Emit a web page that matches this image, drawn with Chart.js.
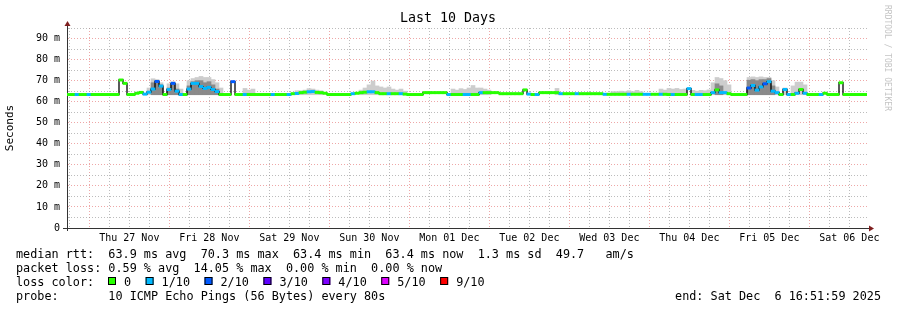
<!DOCTYPE html>
<html>
<head>
<meta charset="utf-8">
<title>Last 10 Days</title>
<script src="https://cdn.jsdelivr.net/npm/chart.js@4.4.1/dist/chart.umd.min.js"></script>
<style>
  html, body { margin: 0; padding: 0; background: #fff; }
  #wrap { width: 897px; height: 310px; position: relative; }
</style>
</head>
<body>
<div id="wrap"><canvas id="myCanvas"></canvas></div>
<script>
var MONO = '"DejaVu Sans Mono", "Liberation Mono", monospace';

// 10 days ending Sat Dec 6 16:51:59 2025, one sample every 1.2 hours (200 samples)
var stepHours = 1.2;
var spanHours = 240;
var firstMidnight = 6.7;   // hours from graph start to Thu 27 Nov 00:00

var dayLabels = ['Thu 27 Nov', 'Fri 28 Nov', 'Sat 29 Nov', 'Sun 30 Nov', 'Mon 01 Dec',
                 'Tue 02 Dec', 'Wed 03 Dec', 'Thu 04 Dec', 'Fri 05 Dec', 'Sat 06 Dec'];
var yLabels = ['0', '10 m', '20 m', '30 m', '40 m', '50 m', '60 m', '70 m', '80 m', '90 m'];

var lossColors = ['#26ff00', '#00b8ff', '#0059ff', '#5e00ff', '#7e00ff', '#dd00ff', '#ff0000'];
var lossLabels = ['0', '1/10', '2/10', '3/10', '4/10', '5/10', '9/10'];

// median rtt (ms)
var median = [
  63.4,63.4,63.4,63.4,63.4,63.4,63.4,63.4,63.4,63.4, 63.4,63.4,63.4,70.3,68.7,63.4,63.4,64.0,64.4,63.6,
  64.5,66.0,69.6,67.4,63.4,65.8,68.7,65.0,63.4,63.4, 66.0,68.7,68.7,67.2,66.3,66.8,65.8,64.8,63.4,63.4,
  63.4,69.5,63.4,63.4,63.4,63.4,63.4,63.4,63.4,63.4, 63.4,63.4,63.4,63.4,63.4,63.4,63.8,63.9,64.3,64.5,
  64.7,64.8,64.4,64.3,64.0,63.4,63.4,63.4,63.4,63.4, 63.4,63.8,64.0,64.3,64.5,64.7,64.7,64.3,63.8,63.8,
  63.8,63.8,63.8,63.8,63.6,63.4,63.4,63.4,63.4,64.3, 64.3,64.3,64.3,64.3,64.3,63.4,63.4,63.4,63.4,63.4,
  63.4,63.4,63.4,64.3,64.3,64.3,64.3,64.3,63.8,63.8, 63.8,63.8,63.8,63.8,65.6,63.6,63.4,63.4,64.3,64.3,
  64.3,64.3,64.3,63.8,63.8,63.8,63.8,63.8,63.8,63.8, 63.8,63.8,63.8,63.8,63.5,63.5,63.5,63.5,63.5,63.5,
  63.5,63.5,63.5,63.5,63.5,63.5,63.5,63.5,63.5,63.5, 63.4,63.4,63.4,63.4,63.4,66.2,63.4,63.4,63.4,63.4,
  63.4,64.3,65.6,64.3,64.3,63.8,63.4,63.4,63.4,63.4, 66.5,67.7,65.5,67.0,68.5,69.5,65.0,64.3,63.4,65.8,
  63.4,63.4,64.0,65.8,64.0,63.4,63.4,63.4,63.4,64.0, 63.4,63.4,63.4,69.0,63.4,63.4,63.4,63.4,63.4,63.4
];

// lost pings out of 10 for each sample
var loss = [
  0,0,1,0,0,1,0,0,0,0, 0,0,0,0,0,0,0,0,0,1,
  1,1,2,1,0,1,2,1,1,0, 1,1,1,1,1,1,1,1,0,0,
  0,2,0,0,1,0,0,0,0,0, 0,1,0,0,0,1,0,1,0,0,
  1,1,0,0,0,0,0,0,0,0, 0,1,0,0,0,1,1,0,0,0,
  1,0,0,1,0,0,0,0,0,0, 0,0,0,0,0,1,0,0,0,1,
  1,0,0,1,0,0,0,0,0,0, 0,0,0,0,0,1,0,1,0,0,
  0,0,0,1,0,0,0,1,0,0, 0,0,0,0,1,0,0,0,0,0,
  1,0,0,0,1,1,0,0,1,0, 0,1,0,0,0,1,0,1,1,0,
  0,1,0,1,1,0,0,0,0,0, 2,1,1,1,2,1,1,1,0,1,
  1,0,1,0,1,0,0,0,1,0, 0,0,0,0,0,0,0,0,0,0
];

// top of the smoke (slowest ping), light band
var smokeMax = [
  null,null,null,null,null,null,null,null,null,null, null,null,null,null,null,null,null,null,null,null,
  66.5,70.9,70.5,69.0,null,68.5,69.5,68.5,66.0,null, 70.0,71.0,71.5,72.0,71.5,71.5,70.5,69.0,66.5,null,
  null,null,null,null,66.3,65.5,66.0,null,null,null, null,null,null,null,null,null,null,65.2,65.2,65.5,
  66.2,66.0,65.5,65.2,null,null,null,null,null,null, null,null,null,65.5,66.5,68.0,69.8,67.5,67.0,66.5,
  67.0,66.0,65.5,66.0,65.0,null,null,null,null,null, null,null,null,null,null,null,66.0,65.5,66.2,65.8,
  66.5,67.7,66.5,66.5,66.0,65.5,null,null,null,null, null,null,null,null,null,null,null,null,null,null,
  null,null,66.3,null,null,null,null,null,null,null, null,null,null,null,null,null,64.8,64.8,65.0,64.8,
  65.2,64.8,65.4,64.8,null,null,null,null,66.0,65.5, 66.3,66.0,66.3,65.8,66.0,null,65.4,65.0,65.4,65.2,
  65.6,69.0,71.5,71.0,70.0,68.0,null,null,null,null, 71.5,71.8,71.5,71.8,71.5,71.5,70.0,67.0,null,66.5,
  null,67.5,69.3,69.3,68.0,null,null,null,null,null, null,null,null,null,null,null,null,null,null,null
];

// dense part of the smoke, dark band
var smokeCore = [
  null,null,null,null,null,null,null,null,null,null, null,null,null,null,null,null,null,null,null,null,
  null,69.0,69.8,68.0,null,66.5,68.5,66.0,null,null, 67.5,69.5,70.0,70.0,69.0,69.5,68.0,66.0,null,null,
  null,null,null,null,null,null,null,null,null,null, null,null,null,null,null,null,null,null,null,null,
  null,null,null,null,null,null,null,null,null,null, null,null,null,null,null,null,null,null,null,null,
  null,null,null,null,null,null,null,null,null,null, null,null,null,null,null,null,null,null,null,null,
  null,null,null,null,null,null,null,null,null,null, null,null,null,null,null,null,null,null,null,null,
  null,null,null,null,null,null,null,null,null,null, null,null,null,null,null,null,null,null,null,null,
  null,null,null,null,null,null,null,null,null,null, null,null,null,null,null,null,null,null,null,null,
  null,null,68.5,67.5,null,null,null,null,null,null, 70.2,70.5,70.0,70.5,70.5,71.0,67.5,null,null,null,
  null,null,null,null,null,null,null,null,null,null, null,null,null,null,null,null,null,null,null,null
];

var minRtt = 63.3;     // smoke floor

var GRID = 'rgba(143,143,143,0.6)';
var MGRID = 'rgba(222,79,79,0.5)';
var AXIS = '#333333';
var ARROW = '#7f1f1f';

function hourOf(i) { return (i + 0.5) * stepHours; }

var medianLine = [], medianBars = [], barColors = [], smokeOuter = [], smokeInner = [];
median.forEach(function (m, i) {
  medianLine.push({ x: hourOf(i), y: m });
  medianBars.push({ x: hourOf(i), y: [m - 0.55, m + 0.55] });
  barColors.push(lossColors[loss[i]]);
  if (smokeMax[i] !== null) smokeOuter.push({ x: hourOf(i), y: [minRtt, smokeMax[i]] });
  if (smokeCore[i] !== null) smokeInner.push({ x: hourOf(i), y: [minRtt, smokeCore[i]] });
});

// grid every 6 hours, labels at noon, red lines at midnight
var xTicks = [];
for (var k = 0; k < 40; k++) {
  var t = firstMidnight - 6 + 6 * k;
  if (t < 0 || t > spanHours) continue;
  xTicks.push({ value: t, midnight: k % 4 === 1, text: k % 4 === 3 ? dayLabels[(k - 3) / 4] : '' });
}

var rrdDecor = {
  id: 'rrdDecor',
  afterDraw: function (chart) {
    var ctx = chart.ctx, a = chart.chartArea;
    ctx.save();

    // axis extensions and arrows
    ctx.strokeStyle = AXIS;
    ctx.lineWidth = 1;
    ctx.beginPath();
    ctx.moveTo(a.left + 0.5, a.top); ctx.lineTo(a.left + 0.5, a.top - 3);
    ctx.moveTo(a.right, a.bottom + 0.5); ctx.lineTo(a.right + 3, a.bottom + 0.5);
    ctx.moveTo(a.left - 3, a.bottom + 0.5); ctx.lineTo(a.left, a.bottom + 0.5);
    ctx.moveTo(a.left + 0.5, a.bottom); ctx.lineTo(a.left + 0.5, a.bottom + 3);
    ctx.stroke();
    ctx.fillStyle = ARROW;
    ctx.beginPath();
    ctx.moveTo(a.left + 0.5, a.top - 7); ctx.lineTo(a.left - 2.5, a.top - 2); ctx.lineTo(a.left + 3.5, a.top - 2);
    ctx.closePath(); ctx.fill();
    ctx.beginPath();
    ctx.moveTo(a.right + 7, a.bottom + 0.5); ctx.lineTo(a.right + 2, a.bottom - 2.5); ctx.lineTo(a.right + 2, a.bottom + 3.5);
    ctx.closePath(); ctx.fill();

    // title
    ctx.fillStyle = '#000';
    ctx.font = '13.3px ' + MONO;
    ctx.textAlign = 'center';
    ctx.textBaseline = 'middle';
    ctx.fillText('Last 10 Days', 448, 19);

    // legend block
    ctx.font = '11.8px ' + MONO;
    ctx.textAlign = 'left';
    ctx.textBaseline = 'alphabetic';
    ctx.fillText('median rtt:  63.9 ms avg  70.3 ms max  63.4 ms min  63.4 ms now  1.3 ms sd  49.7   am/s', 16, 257.5);
    ctx.fillText('packet loss: 0.59 % avg  14.05 % max  0.00 % min  0.00 % now', 16, 271.5);
    ctx.fillText('loss color:', 16, 285.5);
    var x = 108;
    lossLabels.forEach(function (lbl, i) {
      ctx.fillStyle = lossColors[i];
      ctx.fillRect(x, 277, 8, 8);
      ctx.strokeStyle = '#000';
      ctx.strokeRect(x + 0.5, 277.5, 7, 7);
      ctx.fillStyle = '#000';
      ctx.fillText(lbl, x + 16, 285.5);
      x = x + 16 + ctx.measureText(lbl).width + 14.5;
    });
    ctx.fillText('probe:       10 ICMP Echo Pings (56 Bytes) every 80s', 16, 299.5);
    ctx.textAlign = 'right';
    ctx.fillText('end: Sat Dec  6 16:51:59 2025', 881, 299.5);

    // rrdtool watermark
    ctx.translate(891, 5);
    ctx.rotate(Math.PI / 2);
    ctx.font = '8px ' + MONO;
    ctx.textAlign = 'left';
    ctx.textBaseline = 'top';
    ctx.fillStyle = '#c4c4c4';
    ctx.fillText('RRDTOOL / TOBI OETIKER', 0, 0);

    ctx.restore();
  }
};

var myChart = new Chart(document.getElementById('myCanvas'), {
  type: 'line',
  data: {
    datasets: [
      { type: 'bar', data: medianBars, backgroundColor: barColors, borderWidth: 0,
        grouped: false, barPercentage: 1, categoryPercentage: 1, order: 1 },
      { type: 'line', data: medianLine, borderColor: '#000', borderWidth: 1.3,
        stepped: 'middle', pointRadius: 0, fill: false, order: 2 },
      { type: 'bar', data: smokeInner, backgroundColor: '#8a8a8a', borderWidth: 0,
        grouped: false, barPercentage: 1, categoryPercentage: 1, order: 3 },
      { type: 'bar', data: smokeOuter, backgroundColor: '#cdcdcd', borderWidth: 0,
        grouped: false, barPercentage: 1, categoryPercentage: 1, order: 4 }
    ]
  },
  options: {
    responsive: true,
    maintainAspectRatio: false,
    animation: false,
    layout: { padding: { top: 28, right: 30, left: 0, bottom: 0 } },
    plugins: { legend: { display: false }, tooltip: { enabled: false } },
    scales: {
      x: {
        type: 'linear', min: 0, max: spanHours, offset: false,
        afterBuildTicks: function (scale) { scale.ticks = xTicks; },
        afterFit: function (scale) { scale.height = 82; },
        grid: {
          offset: false, drawTicks: false, lineWidth: 1,
          color: function (c) { return c.tick && c.tick.midnight ? MGRID : GRID; }
        },
        border: { color: AXIS, width: 1, dash: [1, 2] },
        ticks: {
          autoSkip: false, maxRotation: 0, minRotation: 0, padding: 4, color: '#000',
          font: { family: MONO, size: 10 },
          callback: function (v, i, ticks) { return ticks[i].text || ''; }
        }
      },
      y: {
        min: 0, max: 95,
        afterFit: function (scale) { scale.width = 67; },
        grid: {
          lineWidth: 1, drawTicks: true, tickLength: 4,
          color: function (c) {
            var v = c.tick.value;
            if (v === 0) return 'rgba(0,0,0,0)';
            return v % 10 === 0 ? MGRID : GRID;
          },
          tickColor: function (c) { return c.tick.value === 0 ? AXIS : 'rgba(0,0,0,0)'; }
        },
        border: { color: AXIS, width: 1, dash: [1, 2] },
        title: { display: true, text: 'Seconds', color: '#000', font: { family: MONO, size: 11 } },
        ticks: {
          stepSize: 5, padding: 3, color: '#000', autoSkip: false,
          font: { family: MONO, size: 10 },
          callback: function (v) { return v % 10 === 0 ? yLabels[v / 10] : ''; }
        }
      }
    }
  },
  plugins: [rrdDecor]
});
</script>
</body>
</html>
